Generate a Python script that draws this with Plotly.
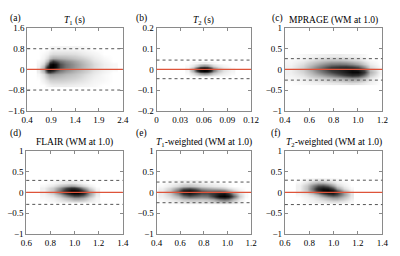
import plotly.graph_objects as go

# ---------------- data ----------------
panel_labels = ["(a)", "(b)", "(c)", "(d)", "(e)", "(f)"]
panel_titles = ["<i>T</i><sub>1</sub> (s)", "<i>T</i><sub>2</sub> (s)", "MPRAGE (WM at 1.0)",
                "FLAIR (WM at 1.0)", "<i>T</i><sub>1</sub>-weighted (WM at 1.0)",
                "<i>T</i><sub>2</sub>-weighted (WM at 1.0)"]

x_ranges = [[0.4, 2.4], [0, 0.12], [0.4, 1.2], [0.6, 1.4], [0.4, 1.2], [0.6, 1.4]]
y_ranges = [[-1.6, 1.6], [-0.2, 0.2], [-1, 1], [-1, 1], [-1, 1], [-1, 1]]
x_ticks = [[0.4, 0.9, 1.4, 1.9, 2.4], [0, 0.03, 0.06, 0.09, 0.12], [0.4, 0.6, 0.8, 1.0, 1.2],
           [0.6, 0.8, 1.0, 1.2, 1.4], [0.4, 0.6, 0.8, 1.0, 1.2], [0.6, 0.8, 1.0, 1.2, 1.4]]
x_ticktext = [["0.4", "0.9", "1.4", "1.9", "2.4"], ["0", "0.03", "0.06", "0.09", "0.12"],
              ["0.4", "0.6", "0.8", "1.0", "1.2"], ["0.6", "0.8", "1.0", "1.2", "1.4"],
              ["0.4", "0.6", "0.8", "1.0", "1.2"], ["0.6", "0.8", "1.0", "1.2", "1.4"]]
y_ticks = [[-1.6, -0.8, 0, 0.8, 1.6], [-0.2, -0.1, 0, 0.1, 0.2], [-1, -0.5, 0, 0.5, 1],
           [-1, -0.5, 0, 0.5, 1], [-1, -0.5, 0, 0.5, 1], [-1, -0.5, 0, 0.5, 1]]
y_ticktext = [["\u22121.6", "\u22120.8", "0", "0.8", "1.6"], ["\u22120.2", "\u22120.1", "0", "0.1", "0.2"],
              ["\u22121", "\u22120.5", "0", "0.5", "1"], ["\u22121", "\u22120.5", "0", "0.5", "1"],
              ["\u22121", "\u22120.5", "0", "0.5", "1"], ["\u22121", "\u22120.5", "0", "0.5", "1"]]

# limits of agreement (dashed lines, +/-)
loa = [0.8, 0.045, 0.26, 0.29, 0.25, 0.295]

# density grids (grey level 0..1)
dens_a_x = [0.65, 0.75, 0.82, 0.88, 0.94, 1.0, 1.08, 1.2, 1.4, 1.6, 1.8, 2.0, 2.2]
dens_a_y = [-0.6, -0.4, -0.2, -0.1, 0.0, 0.1, 0.2, 0.3, 0.45, 0.6, 0.8]
dens_a_z = [
    [0, 0, 0.02, 0.03, 0.04, 0.04, 0.04, 0.04, 0.03, 0.02, 0.01, 0, 0],
    [0, 0.03, 0.07, 0.1, 0.11, 0.11, 0.11, 0.1, 0.08, 0.05, 0.02, 0.01, 0],
    [0.01, 0.07, 0.2, 0.26, 0.26, 0.24, 0.22, 0.18, 0.14, 0.08, 0.04, 0.01, 0],
    [0.03, 0.15, 0.55, 0.6, 0.5, 0.4, 0.32, 0.25, 0.18, 0.11, 0.05, 0.02, 0],
    [0.04, 0.25, 0.9, 1.0, 0.9, 0.65, 0.45, 0.33, 0.23, 0.14, 0.07, 0.03, 0.01],
    [0.03, 0.2, 0.8, 1.0, 1.0, 0.9, 0.55, 0.4, 0.28, 0.17, 0.08, 0.03, 0.01],
    [0.02, 0.1, 0.45, 0.9, 1.0, 0.9, 0.55, 0.4, 0.28, 0.17, 0.08, 0.03, 0.01],
    [0.01, 0.05, 0.2, 0.45, 0.65, 0.55, 0.42, 0.33, 0.24, 0.14, 0.06, 0.02, 0],
    [0, 0.02, 0.08, 0.16, 0.22, 0.22, 0.2, 0.18, 0.14, 0.09, 0.04, 0.01, 0],
    [0, 0.01, 0.03, 0.06, 0.08, 0.08, 0.08, 0.08, 0.07, 0.04, 0.02, 0, 0],
    [0, 0, 0, 0.01, 0.02, 0.02, 0.02, 0.02, 0.02, 0.01, 0, 0, 0],
]

dens_b_x = [0.04, 0.047, 0.052, 0.056, 0.06, 0.064, 0.068, 0.072, 0.078, 0.085, 0.095]
dens_b_y = [-0.03, -0.018, -0.009, 0, 0.009, 0.018, 0.03]
dens_b_z = [
    [0, 0.01, 0.03, 0.04, 0.05, 0.04, 0.03, 0.02, 0.01, 0.01, 0],
    [0.01, 0.08, 0.2, 0.32, 0.38, 0.35, 0.25, 0.15, 0.08, 0.04, 0.01],
    [0.02, 0.2, 0.6, 0.9, 1.0, 0.95, 0.7, 0.35, 0.15, 0.06, 0.02],
    [0.03, 0.25, 0.8, 1.0, 1.0, 1.0, 0.9, 0.45, 0.18, 0.07, 0.02],
    [0.02, 0.16, 0.55, 0.9, 1.0, 0.9, 0.65, 0.3, 0.12, 0.05, 0.01],
    [0.01, 0.06, 0.16, 0.28, 0.35, 0.32, 0.2, 0.1, 0.05, 0.02, 0],
    [0, 0.01, 0.02, 0.03, 0.04, 0.03, 0.02, 0.01, 0, 0, 0],
]

dens_c_x = [0.45, 0.55, 0.62, 0.7, 0.78, 0.85, 0.9, 0.95, 1.0, 1.05, 1.1, 1.18]
dens_c_y = [-0.32, -0.22, -0.13, -0.06, 0, 0.06, 0.13, 0.22, 0.32]
dens_c_z = [
    [0, 0.01, 0.02, 0.03, 0.04, 0.05, 0.06, 0.07, 0.06, 0.04, 0.02, 0],
    [0.01, 0.03, 0.07, 0.11, 0.16, 0.2, 0.25, 0.28, 0.26, 0.16, 0.05, 0],
    [0.02, 0.06, 0.14, 0.24, 0.36, 0.5, 0.6, 0.7, 0.65, 0.42, 0.13, 0.01],
    [0.03, 0.09, 0.2, 0.38, 0.55, 0.7, 0.82, 0.95, 0.95, 0.65, 0.2, 0.02],
    [0.03, 0.11, 0.26, 0.46, 0.65, 0.78, 0.85, 0.9, 0.8, 0.55, 0.16, 0.01],
    [0.03, 0.1, 0.24, 0.42, 0.6, 0.68, 0.7, 0.65, 0.55, 0.32, 0.08, 0.01],
    [0.02, 0.07, 0.16, 0.28, 0.38, 0.4, 0.38, 0.32, 0.24, 0.13, 0.04, 0],
    [0.01, 0.03, 0.07, 0.12, 0.15, 0.15, 0.13, 0.1, 0.08, 0.04, 0.01, 0],
    [0, 0.01, 0.02, 0.03, 0.04, 0.04, 0.03, 0.03, 0.02, 0.01, 0, 0],
]

dens_d_x = [0.75, 0.82, 0.88, 0.93, 0.97, 1.0, 1.03, 1.07, 1.12, 1.18]
dens_d_y = [-0.22, -0.14, -0.07, 0, 0.05, 0.1, 0.16, 0.24]
dens_d_z = [
    [0, 0.01, 0.03, 0.04, 0.05, 0.06, 0.06, 0.05, 0.03, 0.01],
    [0.01, 0.03, 0.08, 0.16, 0.23, 0.28, 0.28, 0.22, 0.1, 0.02],
    [0.02, 0.07, 0.2, 0.42, 0.6, 0.7, 0.7, 0.55, 0.25, 0.04],
    [0.03, 0.13, 0.38, 0.7, 0.95, 1.0, 1.0, 0.75, 0.3, 0.05],
    [0.03, 0.15, 0.42, 0.75, 1.0, 1.0, 0.95, 0.6, 0.22, 0.03],
    [0.03, 0.12, 0.3, 0.55, 0.7, 0.7, 0.55, 0.3, 0.1, 0.01],
    [0.01, 0.05, 0.13, 0.2, 0.25, 0.23, 0.16, 0.09, 0.03, 0],
    [0, 0.01, 0.03, 0.04, 0.05, 0.04, 0.03, 0.01, 0, 0],
]

dens_e_x = [0.45, 0.52, 0.58, 0.63, 0.68, 0.73, 0.78, 0.83, 0.88, 0.93, 0.97, 1.01, 1.05, 1.1, 1.15]
dens_e_y = [-0.25, -0.16, -0.08, -0.02, 0.03, 0.09, 0.16, 0.25]
dens_e_z = [
    [0, 0.01, 0.02, 0.03, 0.04, 0.04, 0.04, 0.04, 0.05, 0.06, 0.07, 0.06, 0.04, 0.01, 0],
    [0.01, 0.04, 0.08, 0.13, 0.15, 0.15, 0.13, 0.15, 0.22, 0.36, 0.42, 0.36, 0.18, 0.05, 0],
    [0.03, 0.08, 0.2, 0.38, 0.5, 0.44, 0.38, 0.4, 0.6, 0.95, 1.0, 0.9, 0.48, 0.12, 0.01],
    [0.04, 0.13, 0.38, 0.7, 0.85, 0.7, 0.55, 0.55, 0.65, 0.8, 0.85, 0.65, 0.3, 0.08, 0.01],
    [0.04, 0.15, 0.48, 0.9, 1.0, 0.8, 0.55, 0.47, 0.47, 0.48, 0.42, 0.27, 0.12, 0.03, 0],
    [0.03, 0.1, 0.28, 0.48, 0.55, 0.44, 0.28, 0.23, 0.19, 0.16, 0.12, 0.07, 0.04, 0.01, 0],
    [0.01, 0.04, 0.09, 0.15, 0.17, 0.13, 0.09, 0.07, 0.05, 0.04, 0.03, 0.01, 0, 0, 0],
    [0, 0.01, 0.02, 0.03, 0.03, 0.03, 0.02, 0.01, 0.01, 0, 0, 0, 0, 0, 0],
]

dens_f_x = [0.72, 0.78, 0.83, 0.87, 0.91, 0.95, 0.99, 1.03, 1.08, 1.14]
dens_f_y = [-0.22, -0.13, -0.06, 0, 0.05, 0.1, 0.16, 0.23, 0.3]
dens_f_z = [
    [0, 0.01, 0.02, 0.03, 0.04, 0.05, 0.06, 0.06, 0.04, 0.01],
    [0, 0.02, 0.04, 0.08, 0.13, 0.2, 0.27, 0.27, 0.15, 0.04],
    [0.01, 0.04, 0.1, 0.2, 0.38, 0.55, 0.65, 0.55, 0.27, 0.06],
    [0.03, 0.08, 0.23, 0.46, 0.72, 0.9, 0.9, 0.65, 0.27, 0.05],
    [0.03, 0.13, 0.38, 0.7, 0.95, 1.0, 0.9, 0.55, 0.18, 0.03],
    [0.03, 0.15, 0.43, 0.75, 0.9, 0.85, 0.6, 0.28, 0.08, 0.01],
    [0.03, 0.13, 0.34, 0.5, 0.54, 0.43, 0.25, 0.1, 0.03, 0],
    [0.01, 0.06, 0.13, 0.18, 0.17, 0.12, 0.07, 0.03, 0.01, 0],
    [0, 0.01, 0.03, 0.04, 0.04, 0.03, 0.02, 0.01, 0, 0],
]

densities = [(dens_a_x, dens_a_y, dens_a_z), (dens_b_x, dens_b_y, dens_b_z),
             (dens_c_x, dens_c_y, dens_c_z), (dens_d_x, dens_d_y, dens_d_z),
             (dens_e_x, dens_e_y, dens_e_z), (dens_f_x, dens_f_y, dens_f_z)]

# ---------------- layout (pixels) ----------------
W, H = 400, 256
x_px = [(22, 121), (156, 254), (289, 390), (21, 121), (156, 254), (289, 390)]
y_px = [(24, 110), (24, 110), (24, 110), (152, 238), (152, 238), (152, 238)]
label_pos = [(10, 14), (140, 14), (281, 14), (10, 134), (140, 134), (280, 134)]
title_y = [16, 16, 16, 143, 143, 143]

FONT = "Liberation Serif"
AXCOL = "#8a8a8a"
RED = "rgb(222,84,58)"

fig = go.Figure()
layout = dict(width=W, height=H, margin=dict(l=0, r=0, t=0, b=0),
              paper_bgcolor="white", plot_bgcolor="white", showlegend=False,
              font=dict(family=FONT, size=9, color="black"))
shapes = []
annotations = []

cscale = [[0, "rgb(255,255,255)"], [0.01, "rgb(248,248,248)"], [0.1, "rgb(210,210,210)"],
          [0.3, "rgb(145,145,145)"], [0.6, "rgb(60,60,60)"], [1, "rgb(0,0,0)"]]

for i in range(6):
    xa = "x" if i == 0 else f"x{i+1}"
    ya = "y" if i == 0 else f"y{i+1}"
    xk = "xaxis" if i == 0 else f"xaxis{i+1}"
    yk = "yaxis" if i == 0 else f"yaxis{i+1}"
    dx, dy, dz = densities[i]
    fig.add_trace(go.Heatmap(x=dx, y=dy, z=dz, xaxis=xa, yaxis=ya, zmin=0, zmax=1,
                             zsmooth="best", colorscale=cscale, showscale=False,
                             hoverinfo="skip"))
    x0, x1 = x_px[i]
    yt, yb = y_px[i]
    common = dict(showline=True, linecolor=AXCOL, linewidth=1, mirror="ticks",
                  ticks="inside", ticklen=3, tickcolor=AXCOL, showgrid=False,
                  zeroline=False, tickfont=dict(family=FONT, size=9, color="black"),
                  fixedrange=True)
    layout[xk] = dict(domain=[x0 / W, x1 / W], range=x_ranges[i], anchor=ya,
                      tickmode="array", tickvals=x_ticks[i], ticktext=x_ticktext[i], **common)
    layout[yk] = dict(domain=[1 - yb / H, 1 - yt / H], range=y_ranges[i], anchor=xa,
                      tickmode="array", tickvals=y_ticks[i], ticktext=y_ticktext[i], **common)
    dref = f"{xa} domain"
    for s in (1, -1):
        shapes.append(dict(type="line", xref=dref, yref=ya, x0=0, x1=1,
                           y0=s * loa[i], y1=s * loa[i], layer="above",
                           line=dict(color="#555555", width=1, dash="3px,3px")))
    shapes.append(dict(type="line", xref=dref, yref=ya, x0=0, x1=1, y0=0, y1=0,
                       layer="above", line=dict(color=RED, width=1.2)))
    lx, ly = label_pos[i]
    annotations.append(dict(text=panel_labels[i], x=lx / W, y=1 - ly / H, xref="paper",
                            yref="paper", showarrow=False, xanchor="center", yanchor="middle",
                            font=dict(family=FONT, size=9.5, color="black")))
    annotations.append(dict(text=panel_titles[i], x=(x0 + x1) / 2 / W, y=1 - title_y[i] / H,
                            xref="paper", yref="paper", showarrow=False, xanchor="center",
                            yanchor="middle", font=dict(family=FONT, size=9.5, color="black")))

layout["shapes"] = shapes
layout["annotations"] = annotations
fig.update_layout(**layout)
fig.write_html("out.html", config={"displayModeBar": False},
               post_script="document.body.style.margin='0px';document.body.style.padding='0px';")
